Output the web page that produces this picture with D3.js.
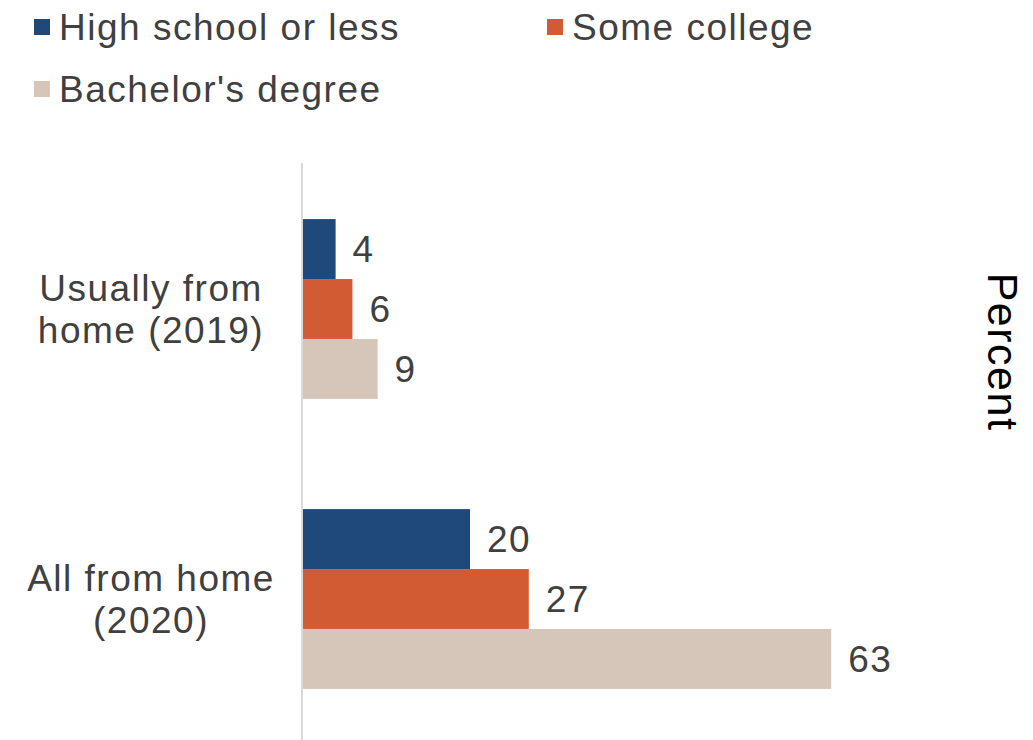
<!DOCTYPE html>
<html>
<head>
<meta charset="utf-8">
<script src="https://cdn.jsdelivr.net/npm/d3@7"></script>
<style>
  html, body { margin: 0; padding: 0; background: #fff; }
  svg { display: block; }
  text { font-family: "Liberation Sans", Arial, sans-serif; }
</style>
</head>
<body>
<svg id="chart" width="1033" height="740"></svg>
<script>
// ---- data ----
const categories = ["Usually from home (2019)", "All from home (2020)"];
const categoryLines = [["Usually from", "home (2019)"], ["All from home", "(2020)"]];
const seriesNames = ["High school or less", "Some college", "Bachelor's degree"];
const highSchool = [4, 20];
const someCollege = [6, 27];
const bachelors = [9, 63];
const axisTitle = "Percent";

const seriesValues = [highSchool, someCollege, bachelors];
const colors = ["#1f487b", "#d35b34", "#d5c6b9"];
const textColor = "#404040";
const fs = 37, ls = "1.5px";

const svg = d3.select("#chart");

const x = d3.scaleLinear().domain([0, 70]).range([302, 302 + 588]);
const y = d3.scaleBand().domain(categories).range([164, 744])
  .paddingInner(0.38).paddingOuter(0.19);
const ySub = d3.scaleBand().domain(seriesNames).range([0, y.bandwidth()]);

// axis line
svg.append("line")
  .attr("x1", x(0)).attr("x2", x(0))
  .attr("y1", 163).attr("y2", 740)
  .attr("stroke", "#d9d9d9").attr("stroke-width", 2);

// bars
categories.forEach((cat, ci) => {
  const g = svg.append("g").attr("transform", `translate(0,${y(cat)})`);
  seriesNames.forEach((s, si) => {
    const v = seriesValues[si][ci];
    g.append("rect")
      .attr("x", x(0) + 1)
      .attr("y", ySub(s))
      .attr("width", x(v) - x(0) - 1)
      .attr("height", ySub.bandwidth())
      .attr("fill", colors[si]);
    g.append("text")
      .attr("x", x(v) + 17)
      .attr("y", ySub(s) + ySub.bandwidth() / 2)
      .attr("dy", "0.36em")
      .attr("font-size", fs)
      .attr("letter-spacing", ls)
      .attr("fill", textColor)
      .text(v);
  });
  // category labels
  const lines = categoryLines[ci];
  const cy = y(cat) + y.bandwidth() / 2;
  const lh = 42;
  lines.forEach((ln, li) => {
    svg.append("text")
      .attr("x", 151)
      .attr("y", cy - (lines.length - 1) * lh / 2 + li * lh)
      .attr("dy", "0.36em")
      .attr("text-anchor", "middle")
      .attr("font-size", fs)
      .attr("letter-spacing", ls)
      .attr("fill", textColor)
      .text(ln);
  });
});

// legend
const legendPos = [[34, 27], [547, 27], [34, 89]];
seriesNames.forEach((s, si) => {
  const [lx, ly] = legendPos[si];
  svg.append("rect")
    .attr("x", lx).attr("y", ly - 8)
    .attr("width", 16).attr("height", 16)
    .attr("fill", colors[si]);
  svg.append("text")
    .attr("x", lx + 25).attr("y", ly)
    .attr("dy", "0.36em")
    .attr("font-size", fs)
    .attr("letter-spacing", ls)
    .attr("fill", textColor)
    .text(s);
});

// axis title
svg.append("text")
  .attr("transform", "translate(988,352) rotate(90)")
  .attr("text-anchor", "middle")
  .attr("font-size", 43)
  .attr("letter-spacing", "1.5px")
  .attr("fill", "#000")
  .text(axisTitle);
</script>
</body>
</html>
